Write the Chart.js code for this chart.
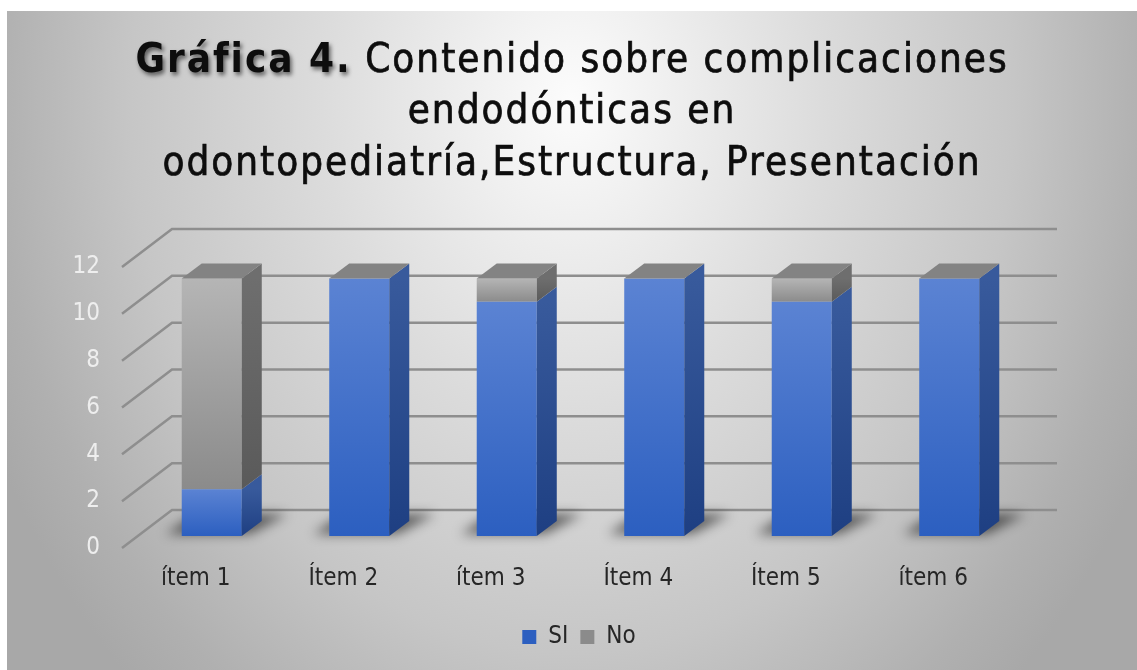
<!DOCTYPE html>
<html>
<head>
<meta charset="utf-8">
<script src="https://cdn.jsdelivr.net/npm/chart.js@4.4.1/dist/chart.umd.min.js"></script>
<style>
  html, body { margin: 0; background: #fff; }
  #wrap { position: absolute; left: 7px; top: 11px; width: 1130px; height: 659px; }
</style>
</head>
<body>
<div id="wrap"><canvas id="chart"></canvas></div>
<script>
// data
const categories = ['ítem 1', 'Ítem 2', 'ítem 3', 'Ítem 4', 'Ítem 5', 'ítem 6'];
const siValues = [2, 11, 10, 11, 10, 11];
const noValues = [9, 0, 1, 0, 1, 0];
const seriesNames = ['SI', 'No'];
const titleLead = 'Gráfica 4.';
const titleLines = [' Contenido sobre complicaciones', 'endodónticas en', 'odontopediatría,Estructura, Presentación'];

const FONT = '"Liberation Sans Narrow", "DejaVu Sans Condensed", "Roboto Condensed", sans-serif';

// 3d look: offset of the bar depth, the back wall and the front plane
const DEPTH = { x: 20, y: -15 };
const WALL_BACK = { x: 34, y: -26 };
const WALL_FRONT = { x: -16, y: 12 };

const COLORS = {
  si: { top: '#5b83d3', bottom: '#2c5fc0', sideTop: '#385a9c', sideBottom: '#1e3f82', legend: '#3f6cc8' },
  no: { top: '#b5b5b5', bottom: '#8b8b8b', sideTop: '#6e6e6e', sideBottom: '#5a5a5a', legend: '#a6a6a6' },
  cap: '#838383'
};

function segmentRange(datasetIndex, i) {
  const lo = datasetIndex === 0 ? 0 : siValues[i];
  const hi = lo + (datasetIndex === 0 ? siValues[i] : noValues[i]);
  return [lo, hi];
}

function frontFill(key) {
  return (ctx) => {
    const c = COLORS[key];
    const chart = ctx.chart;
    if (ctx.type !== 'data' || !chart.chartArea) {
      return c.legend;
    }
    const [lo, hi] = segmentRange(ctx.datasetIndex, ctx.dataIndex);
    const y = chart.scales.y;
    const y0 = y.getPixelForValue(hi);
    const y1 = y.getPixelForValue(lo);
    if (!isFinite(y0) || !isFinite(y1) || y0 === y1) {
      return c.legend;
    }
    const g = chart.ctx.createLinearGradient(0, y0, 0, y1);
    g.addColorStop(0, c.top);
    g.addColorStop(1, c.bottom);
    return g;
  };
}

const backgroundPlugin = {
  id: 'background',
  beforeDraw(chart) {
    const { ctx, width, height } = chart;
    ctx.save();
    const cx = width / 2;
    const cy = 90;
    const rx = 640;
    const ry = 800;
    ctx.translate(cx, cy);
    ctx.scale(rx / ry, 1);
    const g = ctx.createRadialGradient(0, 0, 0, 0, 0, ry);
    g.addColorStop(0, '#fcfcfc');
    g.addColorStop(0.39, '#dcdcdc');
    g.addColorStop(0.69, '#c6c6c6');
    g.addColorStop(0.9, '#b0b0b0');
    g.addColorStop(1, '#a8a8a8');
    ctx.fillStyle = g;
    ctx.fillRect(-cx * ry / rx - 10, -cy - 10, width * ry / rx + 20, height + 20);
    ctx.restore();
  },
  afterDraw(chart) {
    const { ctx, width } = chart;
    const cx = width / 2;
    const baselines = [61, 112, 164];
    ctx.save();
    ctx.textBaseline = 'alphabetic';
    ctx.textAlign = 'left';
    ctx.fillStyle = '#0d0d0d';
    ctx.strokeStyle = '#0d0d0d';
    ctx.lineWidth = 0.7;
    ctx.letterSpacing = '2px';

    const boldFont = 'bold 40px ' + FONT;
    const regFont = '40px ' + FONT;

    // first line: bold lead with a shadow, then regular text
    ctx.font = boldFont;
    const leadW = ctx.measureText(titleLead).width;
    ctx.font = regFont;
    const restW = ctx.measureText(titleLines[0]).width;
    const x = cx - (leadW + restW) / 2;
    ctx.save();
    ctx.font = boldFont;
    ctx.shadowColor = 'rgba(0,0,0,0.55)';
    ctx.shadowBlur = 4;
    ctx.shadowOffsetX = 2;
    ctx.shadowOffsetY = 3;
    ctx.fillText(titleLead, x, baselines[0]);
    ctx.restore();
    ctx.font = regFont;
    ctx.fillText(titleLines[0], x + leadW, baselines[0]);
    ctx.strokeText(titleLines[0], x + leadW, baselines[0]);

    for (let k = 1; k < titleLines.length; k++) {
      const w = ctx.measureText(titleLines[k]).width;
      ctx.fillText(titleLines[k], cx - w / 2, baselines[k]);
      ctx.strokeText(titleLines[k], cx - w / 2, baselines[k]);
    }
    ctx.restore();
  }
};

const threeDPlugin = {
  id: 'threeD',
  beforeDatasetsDraw(chart) {
    const { ctx, chartArea: a, scales: { y } } = chart;
    ctx.save();
    // back wall grid and side wall diagonals
    ctx.strokeStyle = '#8e8e8e';
    ctx.lineWidth = 2.5;
    y.ticks.forEach((t) => {
      const py = y.getPixelForValue(t.value);
      ctx.beginPath();
      ctx.moveTo(a.left + WALL_FRONT.x, py + WALL_FRONT.y);
      ctx.lineTo(a.left + WALL_BACK.x, py + WALL_BACK.y);
      ctx.lineTo(a.right + WALL_BACK.x, py + WALL_BACK.y);
      ctx.stroke();
    });
    // soft shadows on the floor, thrown back and to the right
    ctx.filter = 'blur(6px)';
    ctx.fillStyle = 'rgba(0,0,0,0.55)';
    chart.getDatasetMeta(0).data.forEach((bar) => {
      const b = bar.base;
      const l = bar.x - bar.width / 2;
      const r = bar.x + bar.width / 2;
      ctx.beginPath();
      ctx.moveTo(l - 16, b - 2);
      ctx.lineTo(r + 8, b - 2);
      ctx.lineTo(r + 46, b - 22);
      ctx.lineTo(l + 14, b - 22);
      ctx.closePath();
      ctx.fill();
    });
    ctx.restore();
  },
  afterDatasetsDraw(chart) {
    const { ctx } = chart;
    ctx.save();
    categories.forEach((_, i) => {
      let topBar = null;
      [0, 1].forEach((d) => {
        const [lo, hi] = segmentRange(d, i);
        if (hi === lo) {
          return;
        }
        const bar = chart.getDatasetMeta(d).data[i];
        const c = COLORS[d === 0 ? 'si' : 'no'];
        const r = bar.x + bar.width / 2;
        const g = ctx.createLinearGradient(0, bar.y, 0, bar.base);
        g.addColorStop(0, c.sideTop);
        g.addColorStop(1, c.sideBottom);
        ctx.fillStyle = g;
        ctx.beginPath();
        ctx.moveTo(r, bar.y);
        ctx.lineTo(r + DEPTH.x, bar.y + DEPTH.y);
        ctx.lineTo(r + DEPTH.x, bar.base + DEPTH.y);
        ctx.lineTo(r, bar.base);
        ctx.closePath();
        ctx.fill();
        topBar = bar;
      });
      if (topBar) {
        const l = topBar.x - topBar.width / 2;
        const r = topBar.x + topBar.width / 2;
        ctx.fillStyle = COLORS.cap;
        ctx.beginPath();
        ctx.moveTo(l, topBar.y);
        ctx.lineTo(l + DEPTH.x, topBar.y + DEPTH.y);
        ctx.lineTo(r + DEPTH.x, topBar.y + DEPTH.y);
        ctx.lineTo(r, topBar.y);
        ctx.closePath();
        ctx.fill();
      }
    });
    ctx.restore();
  }
};

new Chart(document.getElementById('chart'), {
  type: 'bar',
  data: {
    labels: categories,
    datasets: [{
      label: seriesNames[0],
      data: siValues,
      backgroundColor: frontFill('si'),
      borderWidth: 0
    },
    {
      label: seriesNames[1],
      data: noValues,
      backgroundColor: frontFill('no'),
      borderWidth: 0
    }]
  },
  options: {
    responsive: true,
    maintainAspectRatio: false,
    animation: false,
    devicePixelRatio: 1,
    categoryPercentage: 1,
    barPercentage: 0.407,
    layout: {
      padding: { top: 244, right: 0, left: 14, bottom: 11 }
    },
    scales: {
      x: {
        stacked: true,
        grid: { display: false, drawTicks: false },
        border: { display: false },
        ticks: {
          color: '#262626',
          font: { family: FONT, size: 24 },
          padding: 28,
          labelOffset: -16,
          maxRotation: 0
        },
        afterFit(scale) {
          scale.height = 77;
        }
      },
      y: {
        stacked: true,
        min: 0,
        max: 12,
        grid: { display: false, drawTicks: false },
        border: { display: false },
        ticks: {
          stepSize: 2,
          color: '#eeeeee',
          font: { family: FONT, size: 24 },
          padding: 38,
          labelOffset: 12
        },
        afterFit(scale) {
          scale.width = 117;
        }
      },
      // empty axis that only keeps room on the right for the back wall
      spacer: {
        type: 'linear',
        position: 'right',
        grid: { display: false, drawTicks: false },
        border: { display: false },
        ticks: { display: false },
        afterFit(scale) {
          scale.width = 114;
        }
      }
    },
    plugins: {
      legend: {
        position: 'bottom',
        labels: {
          color: '#262626',
          font: { family: FONT, size: 24 },
          boxWidth: 14,
          boxHeight: 14,
          padding: 12
        }
      },
      tooltip: { enabled: false },
      title: { display: false }
    }
  },
  plugins: [backgroundPlugin, threeDPlugin]
});
</script>
</body>
</html>
